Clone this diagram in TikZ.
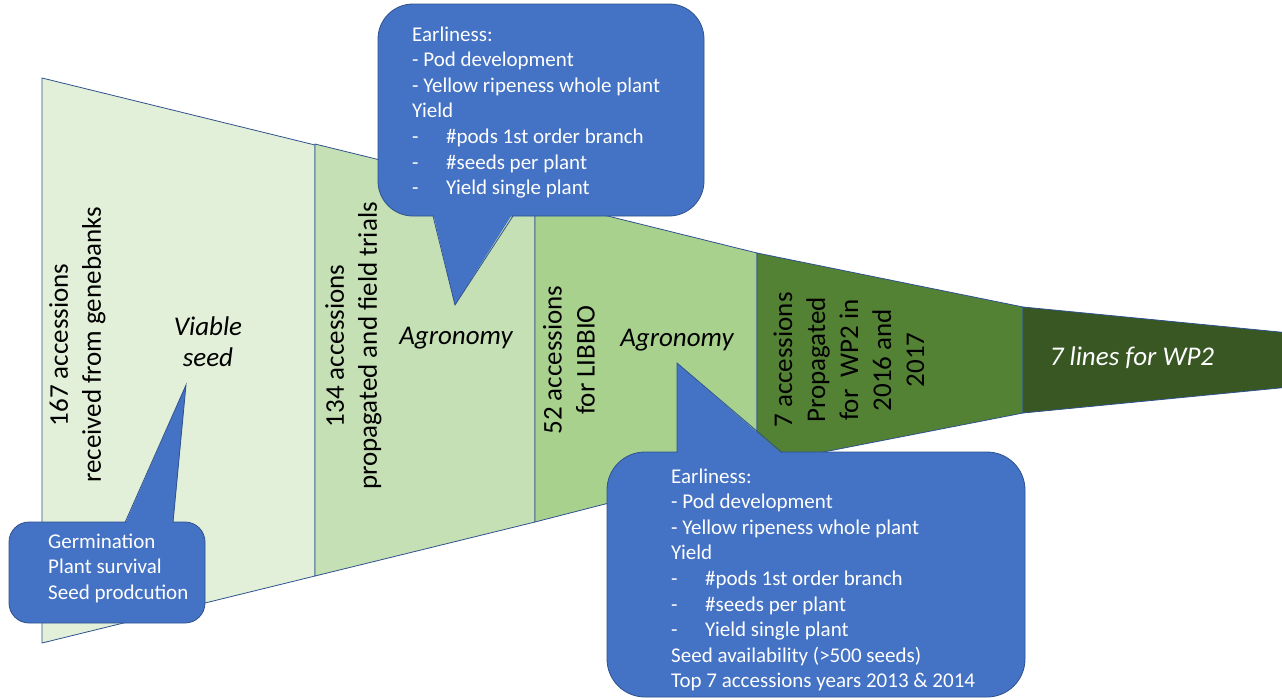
\documentclass[tikz,border=0pt]{standalone}
\usepackage{fontspec}
\setmainfont{Carlito}
\definecolor{segA}{HTML}{E2F0D9}
\definecolor{segB}{HTML}{C5E0B4}
\definecolor{segC}{HTML}{A9D18E}
\definecolor{segD}{HTML}{548235}
\definecolor{segE}{HTML}{385723}
\definecolor{edge}{HTML}{2F528F}
\definecolor{callfill}{HTML}{4472C4}
\tikzset{
  seg/.style={draw=edge, line width=0.8pt, line join=round},
  bigtxt/.style={font=\fontsize{27}{33}\selectfont, align=center, inner sep=0pt, text=black},
  sidetxt/.style={bigtxt, rotate=90},
  ittxt/.style={bigtxt, font=\fontsize{27}{31}\selectfont\itshape},
  callbox/.style={fill=callfill, draw=edge, line width=0.8pt, inner sep=0pt},
  calltext/.style={text=white, inner sep=0pt, anchor=base west, font=\fontsize{21}{25.6}\selectfont},
}
\newcommand{\dashitem}[1]{\makebox[34pt][l]{-}#1}
\begin{document}
\begin{tikzpicture}[x=1pt, y=-1pt]
\useasboundingbox (0,0) rectangle (1282,699);
\fill[white] (0,0) rectangle (1282,699);
% funnel segments
\path[seg, fill=segA] (42,78) -- (315,145) -- (315,576) -- (42,643) -- cycle;
\path[seg, fill=segB] (315,144) -- (535,198) -- (535,522) -- (315,576) -- cycle;
\path[seg, fill=segC] (535,198) -- (757,253) -- (757,465) -- (535,522) -- cycle;
\path[seg, fill=segD] (757,253) -- (1023,307) -- (1023,413) -- (757,465) -- cycle;
\path[seg, fill=segE] (1023,307) -- (1300,334) -- (1300,386) -- (1023,413) -- cycle;
% segment labels
\node[sidetxt] (s1) at (77.5,345) {167 accessions\\received from genebanks};
\node[ittxt] (v1) at (208,342) {Viable\\seed};
\node[sidetxt] (s2) at (353.5,346) {134 accessions\\propagated and field trials};
\node[ittxt] (a2) at (456,338) {Agronomy};
\node[sidetxt] (s3) at (569,360) {52 accessions\\for LIBBIO};
\node[ittxt] (a3) at (677,340) {Agronomy};
\node[sidetxt] (s4) at (849,360) {7 accessions\\Propagated\\for\ \ WP2 in\\2016 and\\2017};
\node[ittxt, text=white] (s5) at (1132,358) {7 lines for WP2};
% callout 1 (top)
\node[callbox, rounded corners=35pt, minimum width=326pt, minimum height=212pt] (c1) at (541,110) {};
\fill[callfill] (433,213) -- (455,305) -- (513,213) -- cycle;
\draw[edge, line width=0.8pt] (433,216) -- (455,305) -- (513,216);
\node[calltext] (t1) at (412,41) {\begin{tabular}[t]{@{}l@{}}Earliness:\\- Pod development\\- Yellow ripeness whole plant\\Yield\\\dashitem{\#pods 1st order branch}\\\dashitem{\#seeds per plant}\\\dashitem{Yield single plant}\end{tabular}};
% callout 2 (left)
\node[callbox, rounded corners=20pt, minimum width=196pt, minimum height=101pt] (c2) at (107,572.5) {};
\fill[callfill] (125,524) -- (186,385) -- (173,524) -- cycle;
\draw[edge, line width=0.8pt] (125,522.5) -- (186,385) -- (173,522.5);
\node[calltext] (t2) at (48,548) {\begin{tabular}[t]{@{}l@{}}Germination\\Plant survival\\Seed prodcution\end{tabular}};
% callout 3 (bottom right)
\node[callbox, rounded corners=38pt, minimum width=418pt, minimum height=245pt] (c3) at (816,574.5) {};
\fill[callfill] (677,454) -- (677,363) -- (782,454) -- cycle;
\draw[edge, line width=0.8pt] (677,452.5) -- (677,363) -- (782,452.5);
\node[calltext] (t3) at (671,483) {\begin{tabular}[t]{@{}l@{}}Earliness:\\- Pod development\\- Yellow ripeness whole plant\\Yield\\\dashitem{\#pods 1st order branch}\\\dashitem{\#seeds per plant}\\\dashitem{Yield single plant}\\Seed availability (>500 seeds)\\Top 7 accessions years 2013 \& 2014\end{tabular}};
\end{tikzpicture}
\end{document}
